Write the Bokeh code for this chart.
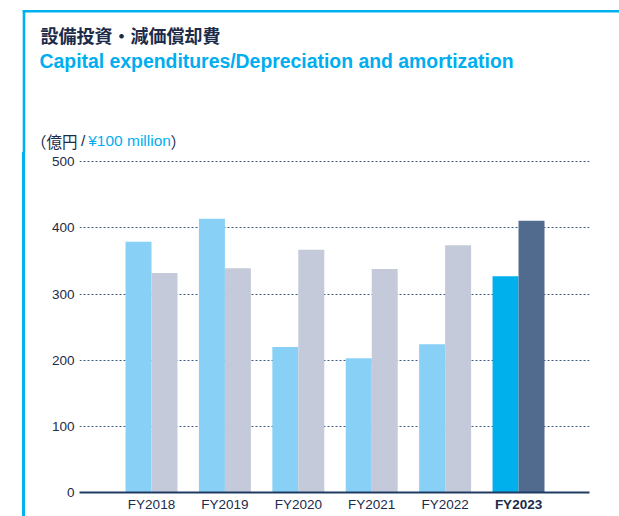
from bokeh.plotting import figure
from bokeh.models import Range1d, FixedTicker, LinearAxis, ColumnDataSource, Div, Spacer
from bokeh.layouts import column, row
from bokeh.core.properties import value
from bokeh.transform import dodge
from bokeh.embed import file_html
from bokeh.resources import INLINE

# ---- data ----
years = ["FY2018", "FY2019", "FY2020", "FY2021", "FY2022", "FY2023"]
capex = [379, 414, 220, 203, 224, 327]
depreciation = [332, 339, 367, 338, 374, 411]
y_ticks = [0, 100, 200, 300, 400, 500]
title_jp = "設備投資・減価償却費"
title_en = "Capital expenditures/Depreciation and amortization"
unit_parts = ["（億円", "/", "¥100 million", "）"]

NAVY = "#1b2b49"
CYAN = "#00aeef"
BORDER = "#00b1f0"

# ---------------- header ----------------
HW, HH = 619, 152
hdr = figure(width=HW, height=HH, output_backend="svg", toolbar_location=None,
             x_range=Range1d(0, HW), y_range=Range1d(HH, 0),
             x_axis_type=None, y_axis_type=None,
             min_border=0, outline_line_color=None, border_fill_color="white")
hdr.grid.visible = False
hdr.segment(x0=[22.2, 23.5], y0=[10.8, 9.5], x1=[HW, 23.5], y1=[10.8, HH],
            line_color=BORDER, line_width=2.6)
hdr.text(x=[40], y=[34], text=[title_jp], text_baseline="middle",
         text_font=value("Noto Sans CJK JP"), text_font_size="18px",
         text_font_style="bold", text_color=NAVY)
hdr.text(x=[39], y=[60], text=[title_en], text_baseline="middle",
         text_font=value("Liberation Sans"), text_font_size="19.4px",
         text_font_style="bold", text_color=CYAN)
hdr.text(x=[30.5], y=[140], text=[unit_parts[0]], text_baseline="middle",
         text_font=value("Noto Sans CJK JP"), text_font_size="15.5px", text_color=NAVY)
hdr.text(x=[80.5], y=[140], text=[unit_parts[1]], text_baseline="middle",
         text_font=value("Liberation Sans"), text_font_size="15.5px", text_color=NAVY)
hdr.text(x=[87.7], y=[140], text=[unit_parts[2]], text_baseline="middle",
         text_font=value("Liberation Sans"), text_font_size="15.5px", text_color=CYAN)
hdr.text(x=[170], y=[140], text=[unit_parts[3]], text_baseline="middle",
         text_font=value("Noto Sans CJK JP"), text_font_size="15.5px", text_color=NAVY)

# ---------------- left border (plain coloured strip) ----------------
CH = 364
gap = Spacer(width=22, height=CH)
bar_line = Div(text="", width=3, height=CH,
               styles={"background-color": BORDER, "margin": "0", "padding": "0"})

# ---------------- chart ----------------
SW = 25
CW = HW - SW
idx = list(range(len(years)))
cap_colors = ["#89d0f6"] * (len(years) - 1) + ["#00b0ec"]
dep_colors = ["#c4cad9"] * (len(years) - 1) + ["#516b8f"]
src = ColumnDataSource(dict(x=idx, capex=capex, dep=depreciation, cc=cap_colors, dc=dep_colors))

p = figure(width=CW, height=CH, output_backend="svg", toolbar_location=None,
           x_range=Range1d(-0.981, 5.967), y_range=Range1d(0, 505),
           min_border_left=54, min_border_right=30, min_border_top=6, min_border_bottom=24,
           outline_line_color=None, border_fill_color="white")

bw = 0.354
p.vbar(x=dodge("x", -bw / 2), top="capex", width=bw, bottom=0, source=src,
       fill_color="cc", line_color=None)
p.vbar(x=dodge("x", bw / 2), top="dep", width=bw, bottom=0, source=src,
       fill_color="dc", line_color=None)

xa = p.xaxis[0]
xa.ticker = FixedTicker(ticks=idx[:-1])
xa.major_label_overrides = {i: years[i] for i in idx[:-1]}
xa.axis_line_color = "#1f3b63"
xa.axis_line_width = 2
xa.major_tick_line_color = None
xa.major_tick_out = 0
xa.major_tick_in = 0
xa.minor_tick_line_color = None
xa.major_label_standoff = 4
xa.major_label_text_font = "Liberation Sans"
xa.major_label_text_font_size = "13.5px"
xa.major_label_text_color = NAVY

xb = LinearAxis(ticker=FixedTicker(ticks=idx[-1:]),
                major_label_overrides={idx[-1]: years[-1]},
                axis_line_color=None, major_tick_line_color=None,
                minor_tick_line_color=None, major_tick_out=0, major_tick_in=0,
                major_label_standoff=-18,
                major_label_text_font="Liberation Sans",
                major_label_text_font_size="13.5px",
                major_label_text_font_style="bold",
                major_label_text_color=NAVY)
p.add_layout(xb, "below")

ya = p.yaxis[0]
ya.ticker = FixedTicker(ticks=y_ticks)
ya.axis_line_color = None
ya.major_tick_line_color = None
ya.major_tick_out = 0
ya.major_tick_in = 0
ya.minor_tick_line_color = None
ya.major_label_standoff = 5
ya.major_label_text_font = "Liberation Sans"
ya.major_label_text_font_size = "13.5px"
ya.major_label_text_color = NAVY

p.xgrid.grid_line_color = None
p.ygrid.ticker = FixedTicker(ticks=y_ticks[1:])
p.ygrid.grid_line_color = "#3d5a82"
p.ygrid.grid_line_dash = "2 2"
p.ygrid.grid_line_width = 1

layout = column(hdr, row(gap, bar_line, p))
open("out.html", "w").write(file_html(layout, INLINE))
